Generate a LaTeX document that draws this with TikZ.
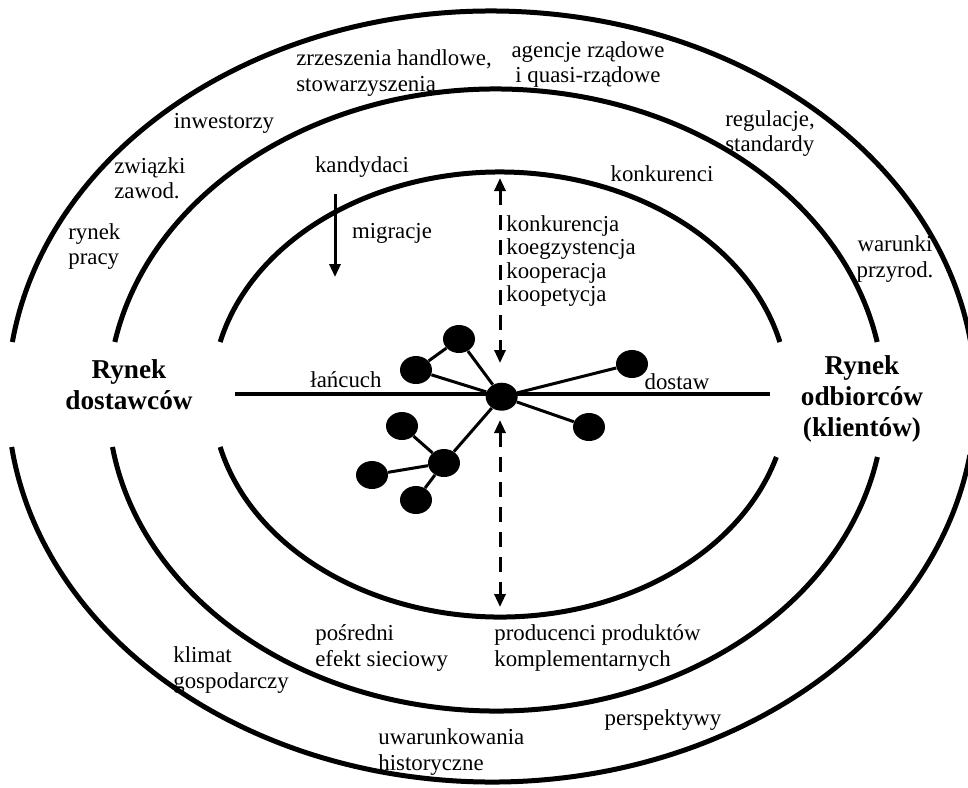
\documentclass[tikz,border=0pt]{standalone}
\usepackage{fontspec}
\setmainfont{Liberation Serif}
\usetikzlibrary{shapes.geometric,arrows.meta}
\newlength{\du}
\setlength{\du}{0.2cm}

\begin{document}
\begin{tikzpicture}[
  ring/.style={line width=0.5\du},
  chain/.style={line width=0.4\du},
  tie/.style={line width=0.3\du},
  dot/.style={ellipse, fill=black, inner sep=0pt, minimum width=3.2\du, minimum height=2.8\du},
  lbl/.style={font=\fontsize{13}{14.5}\selectfont, inner sep=0pt},
  mkt/.style={font=\bfseries\fontsize{15.5}{17.6}\selectfont, align=center, inner sep=0pt},
  arr/.style={line width=0.3\du, -{Triangle[length=7.4pt,width=6.3pt]}},
  darr/.style={line width=0.3\du, dash pattern=on 8.5pt off 5.7pt,
    {Triangle[length=7.4pt,width=6.3pt]}-{Triangle[length=7.4pt,width=6.3pt]}},
]
\pgftransformxscale{1.000000}
\pgftransformyscale{-1.000000}
\useasboundingbox (0\du,0\du) rectangle (96.8\du,78.7\du);
% inner ring
\draw[ring] ({50.0\du+28.8\du*cos(193.65)},{39.45\du+22.25\du*sin(193.65)})
  arc[start angle=193.65, end angle=346.35, x radius=28.8\du, y radius=22.25\du];
\draw[ring] ({50.0\du+28.8\du*cos(16.31)},{39.45\du+22.25\du*sin(16.31)})
  arc[start angle=16.31, end angle=166.35, x radius=28.8\du, y radius=22.25\du];
% middle ring
\draw[ring] ({49.6\du+38.8\du*cos(190.75)},{40.0\du+31.1\du*sin(190.75)})
  arc[start angle=190.75, end angle=349.25, x radius=38.8\du, y radius=31.1\du];
\draw[ring] ({49.6\du+38.8\du*cos(10.56)},{40.0\du+31.1\du*sin(10.56)})
  arc[start angle=10.56, end angle=171.31, x radius=38.8\du, y radius=31.1\du];
% outer ring
\draw[ring] ({49.15\du+48.4\du*cos(188.13)},{39.65\du+38.55\du*sin(188.13)})
  arc[start angle=188.13, end angle=351.87, x radius=48.4\du, y radius=38.55\du];
\draw[ring] ({49.15\du+48.4\du*cos(8.73)},{39.65\du+38.55\du*sin(8.73)})
  arc[start angle=8.73, end angle=172.47, x radius=48.4\du, y radius=38.55\du];
% supply chain
\coordinate (chainL) at (23.5\du,39.4\du);
\coordinate (chainR) at (77.0\du,39.4\du);
\draw[chain] (chainL)--(chainR);
\node[dot] (hub) at (50.17\du,39.67\du) {};
\node[dot] (n1) at (45.9\du,33.9\du) {};
\node[dot] (n2) at (41.6\du,37.0\du) {};
\node[dot] (n3) at (63.2\du,36.4\du) {};
\node[dot] (n4) at (58.9\du,42.7\du) {};
\node[dot] (n5) at (40.2\du,42.6\du) {};
\node[dot] (n6) at (44.4\du,46.3\du) {};
\node[dot] (n7) at (37.2\du,47.5\du) {};
\node[dot] (n8) at (41.6\du,50.0\du) {};
\draw[tie] (hub)--(n1);
\draw[tie] (hub)--(n2);
\draw[tie] (n1)--(n2);
\draw[tie] (hub)--(n3);
\draw[tie] (hub)--(n4);
\draw[tie] (hub)--(n6);
\draw[tie] (n6)--(n5);
\draw[tie] (n6)--(n7);
\draw[tie] (n6)--(n8);
% arrows
\coordinate (migrTop) at (33.5\du,19.4\du);
\coordinate (migrBot) at (33.5\du,27.7\du);
\draw[arr] (migrTop)--(migrBot);
\coordinate (relTop) at (50.0\du,17.8\du);
\coordinate (relMid) at (50.0\du,36.3\du);
\coordinate (relLow) at (50.0\du,42.0\du);
\coordinate (relBot) at (50.0\du,60.7\du);
\draw[darr] (relTop)--(relMid);
\draw[darr] (relLow)--(relBot);
% labels
\node[lbl, align=left, anchor=west] (zrzesz) at (29.6\du,7.3\du) {zrzeszenia handlowe,\\stowarzyszenia};
\node[lbl, align=center] (agencje) at (58.8\du,6.45\du) {agencje rządowe\\i quasi-rządowe};
\node[lbl] (inwest) at (22.4\du,12.3\du) {inwestorzy};
\node[lbl, align=left, anchor=west] (regul) at (72.5\du,13.35\du) {regulacje,\\standardy};
\node[lbl, align=left, anchor=west] (zwiazki) at (11.4\du,17.8\du) {związki\\zawod.};
\node[lbl] (kandyd) at (36.2\du,16.7\du) {kandydaci};
\node[lbl] (konkur) at (66.2\du,17.4\du) {konkurenci};
\node[lbl, align=left, anchor=west] (rynekpr) at (6.8\du,24.65\du) {rynek\\pracy};
\node[lbl] (migr) at (39.2\du,23.3\du) {migracje};
\node[lbl, align=center] (warunki) at (89.5\du,25.9\du) {warunki\\przyrod.};
\node[lbl, align=left, anchor=west, font=\fontsize{13}{13.2}\selectfont] (relacje) at (50.6\du,26.1\du)
  {konkurencja\\koegzystencja\\kooperacja\\koopetycja};
\node[lbl] (lancuch) at (34.6\du,38.0\du) {łańcuch};
\node[lbl] (dostaw) at (67.7\du,38.2\du) {dostaw};
\node[mkt] (dostawcy) at (12.9\du,38.5\du) {Rynek\\dostawców};
\node[mkt] (odbiorcy) at (86.2\du,39.9\du) {Rynek\\odbiorców\\(klientów)};
\node[lbl, align=left, anchor=west] (posredni) at (31.5\du,64.8\du) {pośredni\\efekt sieciowy};
\node[lbl, align=left, anchor=west] (producenci) at (49.4\du,64.8\du) {producenci produktów\\komplementarnych};
\node[lbl, align=left, anchor=west] (klimat) at (17.3\du,67.0\du) {klimat\\gospodarczy};
\node[lbl] (perspekt) at (66.3\du,72.0\du) {perspektywy};
\node[lbl, align=left, anchor=west] (uwarunk) at (37.8\du,75.2\du) {uwarunkowania\\historyczne};
\end{tikzpicture}
\end{document}
